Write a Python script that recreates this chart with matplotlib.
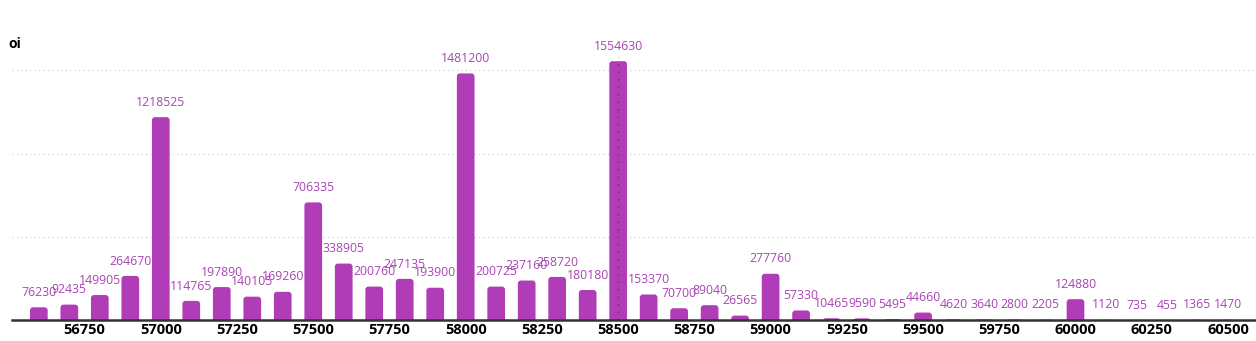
import matplotlib.pyplot as plt
from matplotlib.patches import FancyBboxPatch
import numpy as np

# strike prices and open interest
strikes = [56600, 56700, 56800, 56900, 57000, 57100, 57200, 57300, 57400, 57500,
           57600, 57700, 57800, 57900, 58000, 58100, 58200, 58300, 58400, 58500,
           58600, 58700, 58800, 58900, 59000, 59100, 59200, 59300, 59400, 59500,
           59600, 59700, 59800, 59900, 60000, 60100, 60200, 60300, 60400, 60500]
oi = [76230, 92435, 149905, 264670, 1218525, 114765, 197890, 140105, 169260, 706335,
      338905, 200760, 247135, 193900, 1481200, 200725, 237160, 258720, 180180, 1554630,
      153370, 70700, 89040, 26565, 277760, 57330, 10465, 9590, 5495, 44660,
      4620, 3640, 2800, 2205, 124880, 1120, 735, 455, 1365, 1470]
xticks = list(range(56750, 60501, 250))

bar_color = '#b03cb7'
label_color = '#a845b3'

fig = plt.figure(figsize=(12.56, 3.41), dpi=100)
ax = fig.add_axes([12/1256, 21/341, 1244/1256, 283/341])

ax.set_xlim(56512, 60592)
ax.set_ylim(0, 1700000)

# rounded-top bars (bottom corners pushed below the axis and clipped)
w = 58
r = 10  # corner radius in x units
asp = (1700000 / 283) / ((60592 - 56512) / 1244)  # y units per x unit, same pixels
for s, v in zip(strikes, oi):
    p = FancyBboxPatch((s - w/2, -r*asp*1.5), w, v + r*asp*1.5,
                       boxstyle='round,pad=0,rounding_size=%f' % r,
                       mutation_aspect=asp, fc=bar_color, ec='none', zorder=3)
    ax.add_patch(p)
    ax.annotate(str(v), (s, v), xytext=(0, 6), textcoords='offset points',
                ha='center', va='bottom', color=label_color, fontsize=8.8,
                family='Open Sans')

# hover crosshair on the highest bar
ax.plot([58500, 58500], [0, 1554630 + 25000], ls=(0, (1, 5)), color='#333333',
        lw=0.9, alpha=0.7, zorder=4)

ax.set_yticks([500000, 1000000, 1500000])
ax.yaxis.grid(True, ls=(0, (1, 3)), color='#c8c8c8', lw=0.8)
ax.set_axisbelow(True)
ax.tick_params(axis='y', left=False, labelleft=False)
ax.set_xticks(xticks)
ax.set_xticklabels([str(t) for t in xticks], fontweight='bold', fontsize=10.5,
                   family='Open Sans')
ax.tick_params(axis='x', length=0, pad=2)
for side in ['top', 'right', 'left']:
    ax.spines[side].set_visible(False)
ax.spines['bottom'].set_color('#333333')
ax.spines['bottom'].set_linewidth(1.8)
ax.spines['bottom'].set_zorder(5)

fig.text(8/1256, 1 - 44/341, 'oi', fontweight='bold', fontsize=10, va='center',
         family='Open Sans')

fig.savefig('out.png', dpi=100)
